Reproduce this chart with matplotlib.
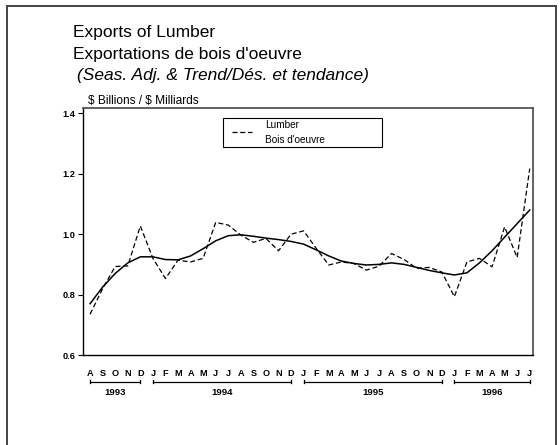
import matplotlib
matplotlib.use('Agg')
import matplotlib.pyplot as plt
import matplotlib.transforms as mtransforms
from matplotlib.patches import Rectangle
from matplotlib.lines import Line2D

plt.rcParams['font.family'] = ['Liberation Sans', 'DejaVu Sans']

# monthly data, Aug 1993 .. Jul 1996 ($ billions)
month_labels = ['A', 'S', 'O', 'N', 'D',
                'J', 'F', 'M', 'A', 'M', 'J', 'J', 'A', 'S', 'O', 'N', 'D',
                'J', 'F', 'M', 'A', 'M', 'J', 'J', 'A', 'S', 'O', 'N', 'D',
                'J', 'F', 'M', 'A', 'M', 'J', 'J']
lumber = [0.735, 0.820, 0.893, 0.895, 1.027,
          0.920, 0.853, 0.914, 0.908, 0.920, 1.039, 1.030, 0.997, 0.973, 0.986, 0.945, 1.000,
          1.011, 0.953, 0.898, 0.908, 0.903, 0.881, 0.894, 0.936, 0.916, 0.887, 0.890, 0.875,
          0.793, 0.908, 0.920, 0.892, 1.024, 0.923, 1.217]
trend = [0.770, 0.825, 0.870, 0.905, 0.925,
         0.925, 0.916, 0.915, 0.928, 0.952, 0.978, 0.995, 0.998, 0.993, 0.987, 0.982, 0.976,
         0.967, 0.948, 0.928, 0.911, 0.903, 0.898, 0.900, 0.905, 0.900, 0.890, 0.880, 0.872,
         0.865, 0.872, 0.905, 0.945, 0.990, 1.035, 1.080]
years = ['1993', '1994', '1995', '1996']
year_spans = [(0, 4), (5, 16), (17, 28), (29, 35)]
yticks = [0.6, 0.8, 1.0, 1.2, 1.4]

fig = plt.figure(figsize=(5.6, 4.45), dpi=100)
ax = fig.add_axes([0.149, 0.2022, 0.803, 0.554])

x = list(range(len(lumber)))
ax.plot(x, lumber, color='black', lw=0.9, dashes=(4, 2.2))
ax.plot(x, trend, color='black', lw=1.1)

ax.set_xlim(-0.53, 35.27)
ax.set_ylim(0.6, 1.416)
ax.set_yticks(yticks)
ax.set_yticklabels([f'{v:.1f}' for v in yticks], fontsize=6.6, fontweight='bold')
ax.tick_params(axis='y', direction='out', length=3.6, width=0.8, pad=2)
ax.set_xticks(x)
ax.set_xticklabels(month_labels, fontsize=6.6, fontweight='bold')
ax.tick_params(axis='x', length=0, pad=10)

for side in ('left', 'bottom'):
    ax.spines[side].set_color('black')
    ax.spines[side].set_linewidth(1.0)
for side in ('top', 'right'):
    ax.spines[side].set_color('#555555')
    ax.spines[side].set_linewidth(1.3)

# year brackets below the month labels
tr = mtransforms.blended_transform_factory(ax.transData, ax.transAxes)
for yr, (a, b) in zip(years, year_spans):
    ax.plot([a, b], [-0.108, -0.108], color='black', lw=0.9, transform=tr, clip_on=False)
    for e in (a, b):
        ax.plot([e, e], [-0.101, -0.115], color='black', lw=0.9, transform=tr, clip_on=False)
    ax.text((a + b) / 2, -0.150, yr, transform=tr, ha='center', va='center',
            fontsize=6.8, fontweight='bold')

# legend box drawn by hand
fig.patches.append(Rectangle((0.3977, 0.6703), 0.2839, 0.0639, transform=fig.transFigure,
                             fill=False, edgecolor='black', lw=0.8))
fig.lines.append(Line2D([0.4137, 0.4495], [0.7027, 0.7027], transform=fig.transFigure,
                        color='black', lw=0.9, dashes=(4, 2.2)))
fig.text(0.473, 0.720, 'Lumber', fontsize=7.2, va='center', ha='left')
fig.text(0.473, 0.6865, "Bois d'oeuvre", fontsize=7.2, va='center', ha='left')

# titles
fig.text(0.130, 0.916, 'Exports of Lumber', fontsize=12.5, va='baseline')
fig.text(0.130, 0.867, "Exportations de bois d'oeuvre", fontsize=12.5, va='baseline')
fig.text(0.137, 0.820, '(Seas. Adj. & Trend/Dés. et tendance)', fontsize=12.5,
         style='italic', va='baseline')
fig.text(0.157, 0.766, r'\$ Billions / \$ Milliards', fontsize=8.6, va='baseline')

# outer frame
fig.patches.append(Rectangle((0.012, -0.02), 0.981, 1.006, transform=fig.transFigure,
                             fill=False, edgecolor='#444444', lw=1.4))

fig.savefig('out.png', dpi=100)
